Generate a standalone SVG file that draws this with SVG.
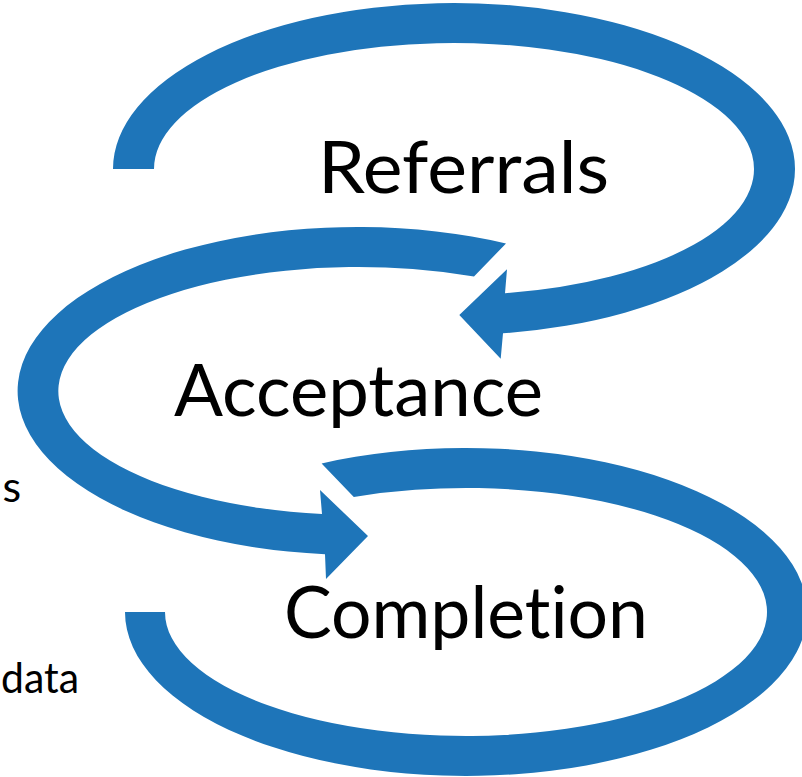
<svg xmlns="http://www.w3.org/2000/svg" width="802" height="777" viewBox="0 0 802 777">
  <style>
    .loop { fill: #1E75B9; }
    text { font-variant-ligatures: none; font-feature-settings: "liga" 0, "clig" 0; }
    .stage { font-family: Lato, "Liberation Sans", "DejaVu Sans", sans-serif; font-size: 72px; fill: #000000; }
    .side { font-family: Lato, "Liberation Sans", "DejaVu Sans", sans-serif; font-size: 43px; fill: #000000; }
  </style>
  <rect width="802" height="777" fill="#FFFFFF"/>

  <!-- curved loop arrows between the stages -->
  <g id="connectors">
    <!-- top loop, ends pointing left into Acceptance -->
    <path id="loop-referrals" class="loop" d="M 113 169 A 341 166 0 1 1 503 333.3 L 500.7 358.7 L 459.3 315 L 507 269.3 L 505 293.2 A 300 126 0 1 0 154 169 Z"/>
    <!-- middle loop, ends pointing right into Completion -->
    <path id="loop-acceptance" class="loop" d="M 506 243.4 A 340 164 0 1 0 325 554.2 L 326 579 L 368 536 L 320 490 L 322 514.1 A 300 124 0 1 1 474 276.6 Z"/>
    <!-- bottom loop, open end at the left -->
    <path id="loop-completion" class="loop" d="M 321.6 463.4 A 341 164 0 1 1 125 612 L 165 612 A 301 124 0 1 0 353.8 496.9 Z"/>
  </g>

  <g id="node-referrals">
    <text class="stage" x="318" y="193" textLength="291" lengthAdjust="spacingAndGlyphs">Referrals</text>
  </g>
  <g id="node-acceptance">
    <text class="stage" x="174" y="416" textLength="369" lengthAdjust="spacingAndGlyphs">Acceptance</text>
  </g>
  <g id="node-completion">
    <text class="stage" x="284" y="638" textLength="364" lengthAdjust="spacingAndGlyphs">Completion</text>
  </g>

  <!-- side notes at the left edge -->
  <g id="side-notes">
    <text class="side" x="21" y="502" text-anchor="end">s</text>
    <text class="side" x="1" y="693" textLength="78" lengthAdjust="spacingAndGlyphs">data</text>
  </g>
</svg>
